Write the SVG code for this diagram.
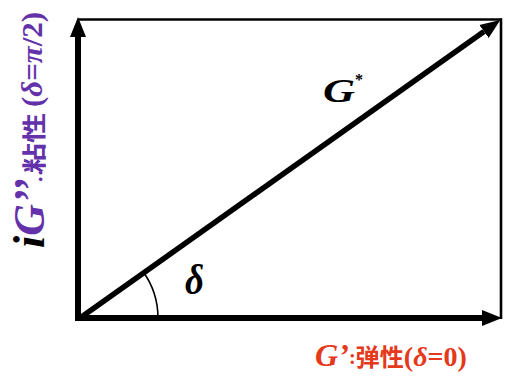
<svg xmlns="http://www.w3.org/2000/svg" width="515" height="376" viewBox="0 0 515 376">
<style>
.ser{font-family:"Liberation Serif","Times New Roman",serif;font-weight:bold;font-style:italic}
.up{font-family:"Liberation Serif","Times New Roman",serif;font-weight:bold;font-style:normal}
.cjk{font-family:"Noto Sans CJK SC","Noto Sans CJK JP",sans-serif;font-weight:bold;font-style:normal}
.red{fill:#e4391b}
.pur{fill:#6331a9}
.axis{stroke:#000;stroke-width:6;fill:none}
.thin{stroke:#000;stroke-width:2.6;fill:none}
</style>
<defs>
<marker id="head" markerUnits="userSpaceOnUse" viewBox="0 -10 22 20" markerWidth="22" markerHeight="20" refX="0" refY="0" orient="auto">
<path d="M0,-8 L20,0 L0,8 Z" fill="#000"/>
</marker>
</defs>
<rect width="515" height="376" fill="#fff"/>
<g id="connectors">
<line class="thin" x1="78" y1="19.5" x2="502" y2="19.5"/>
<line class="thin" x1="501" y1="18.5" x2="501" y2="319"/>
<line class="axis" x1="78" y1="321" x2="78" y2="37" marker-end="url(#head)"/>
<line class="axis" x1="75" y1="318" x2="482" y2="318" marker-end="url(#head)"/>
<line id="gstar-vector" stroke="#000" stroke-width="5.5" x1="80" y1="318" x2="484" y2="31.5" marker-end="url(#head)"/>
<path id="angle-arc" d="M143.2,271.8 A80,80 0 0 1 158,318" fill="none" stroke="#000" stroke-width="1.6"/>
</g>
<g id="label-gstar">
<text class="ser" x="323" y="102" font-size="33" textLength="32" lengthAdjust="spacingAndGlyphs">G</text>
<text class="up" x="355" y="85" font-size="16">*</text>
</g>
<g id="label-delta">
<text class="ser" x="185" y="294" font-size="42" textLength="19" lengthAdjust="spacingAndGlyphs">δ</text>
</g>
<g id="label-storage">
<text class="ser red" x="315" y="366" font-size="32" textLength="152" lengthAdjust="spacingAndGlyphs">G’<tspan class="up" font-size="20" dy="-2">:</tspan><tspan class="cjk" font-size="24" dy="2">弹性</tspan><tspan class="up" font-size="28">(</tspan><tspan font-size="28">δ</tspan><tspan class="up" font-size="28">=0)</tspan></text>
</g>
<g id="label-loss">
<g transform="translate(44,248) rotate(-90)">
<text class="ser" x="0" y="0" font-size="45" textLength="70" lengthAdjust="spacingAndGlyphs"><tspan fill="#000">i</tspan><tspan class="pur">G’’</tspan></text>
<text class="cjk pur" x="75" y="-1" font-size="24" textLength="60" lengthAdjust="spacingAndGlyphs">粘性</text>
<text class="up pur" x="141" y="-2" font-size="30" textLength="95" lengthAdjust="spacingAndGlyphs">(<tspan class="ser">δ</tspan>=<tspan class="ser">π</tspan>/2)</text>
</g>
<text class="up pur" x="37" y="181" font-size="22">:</text>
</g>
</svg>
